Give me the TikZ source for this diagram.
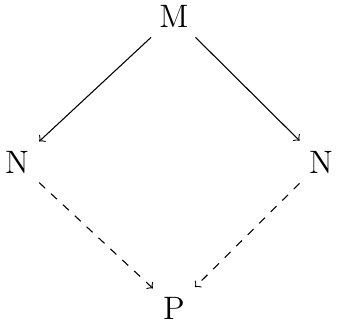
\documentclass[tikz,border=0pt]{standalone}
\begin{document}
\begin{tikzpicture}[x=0.37pt,y=-0.37pt,
  obj/.style={inner sep=3.6pt,font=\fontsize{12}{14}\selectfont},
  solidarrow/.style={->},
  dasharrow/.style={->,dashed}]
\useasboundingbox (0,0) rectangle (337,325);
\node[obj] (M) at (174,16) {M};
\node[obj] (N1) at (17,162) {N};
\node[obj] (N2) at (321,162) {N};
\node[obj] (P) at (174,308) {P};
\draw[solidarrow] (M) -- (N1);
\draw[solidarrow] (M) -- (N2);
\draw[dasharrow] (N1) -- (P);
\draw[dasharrow] (N2) -- (P);
\end{tikzpicture}
\end{document}
